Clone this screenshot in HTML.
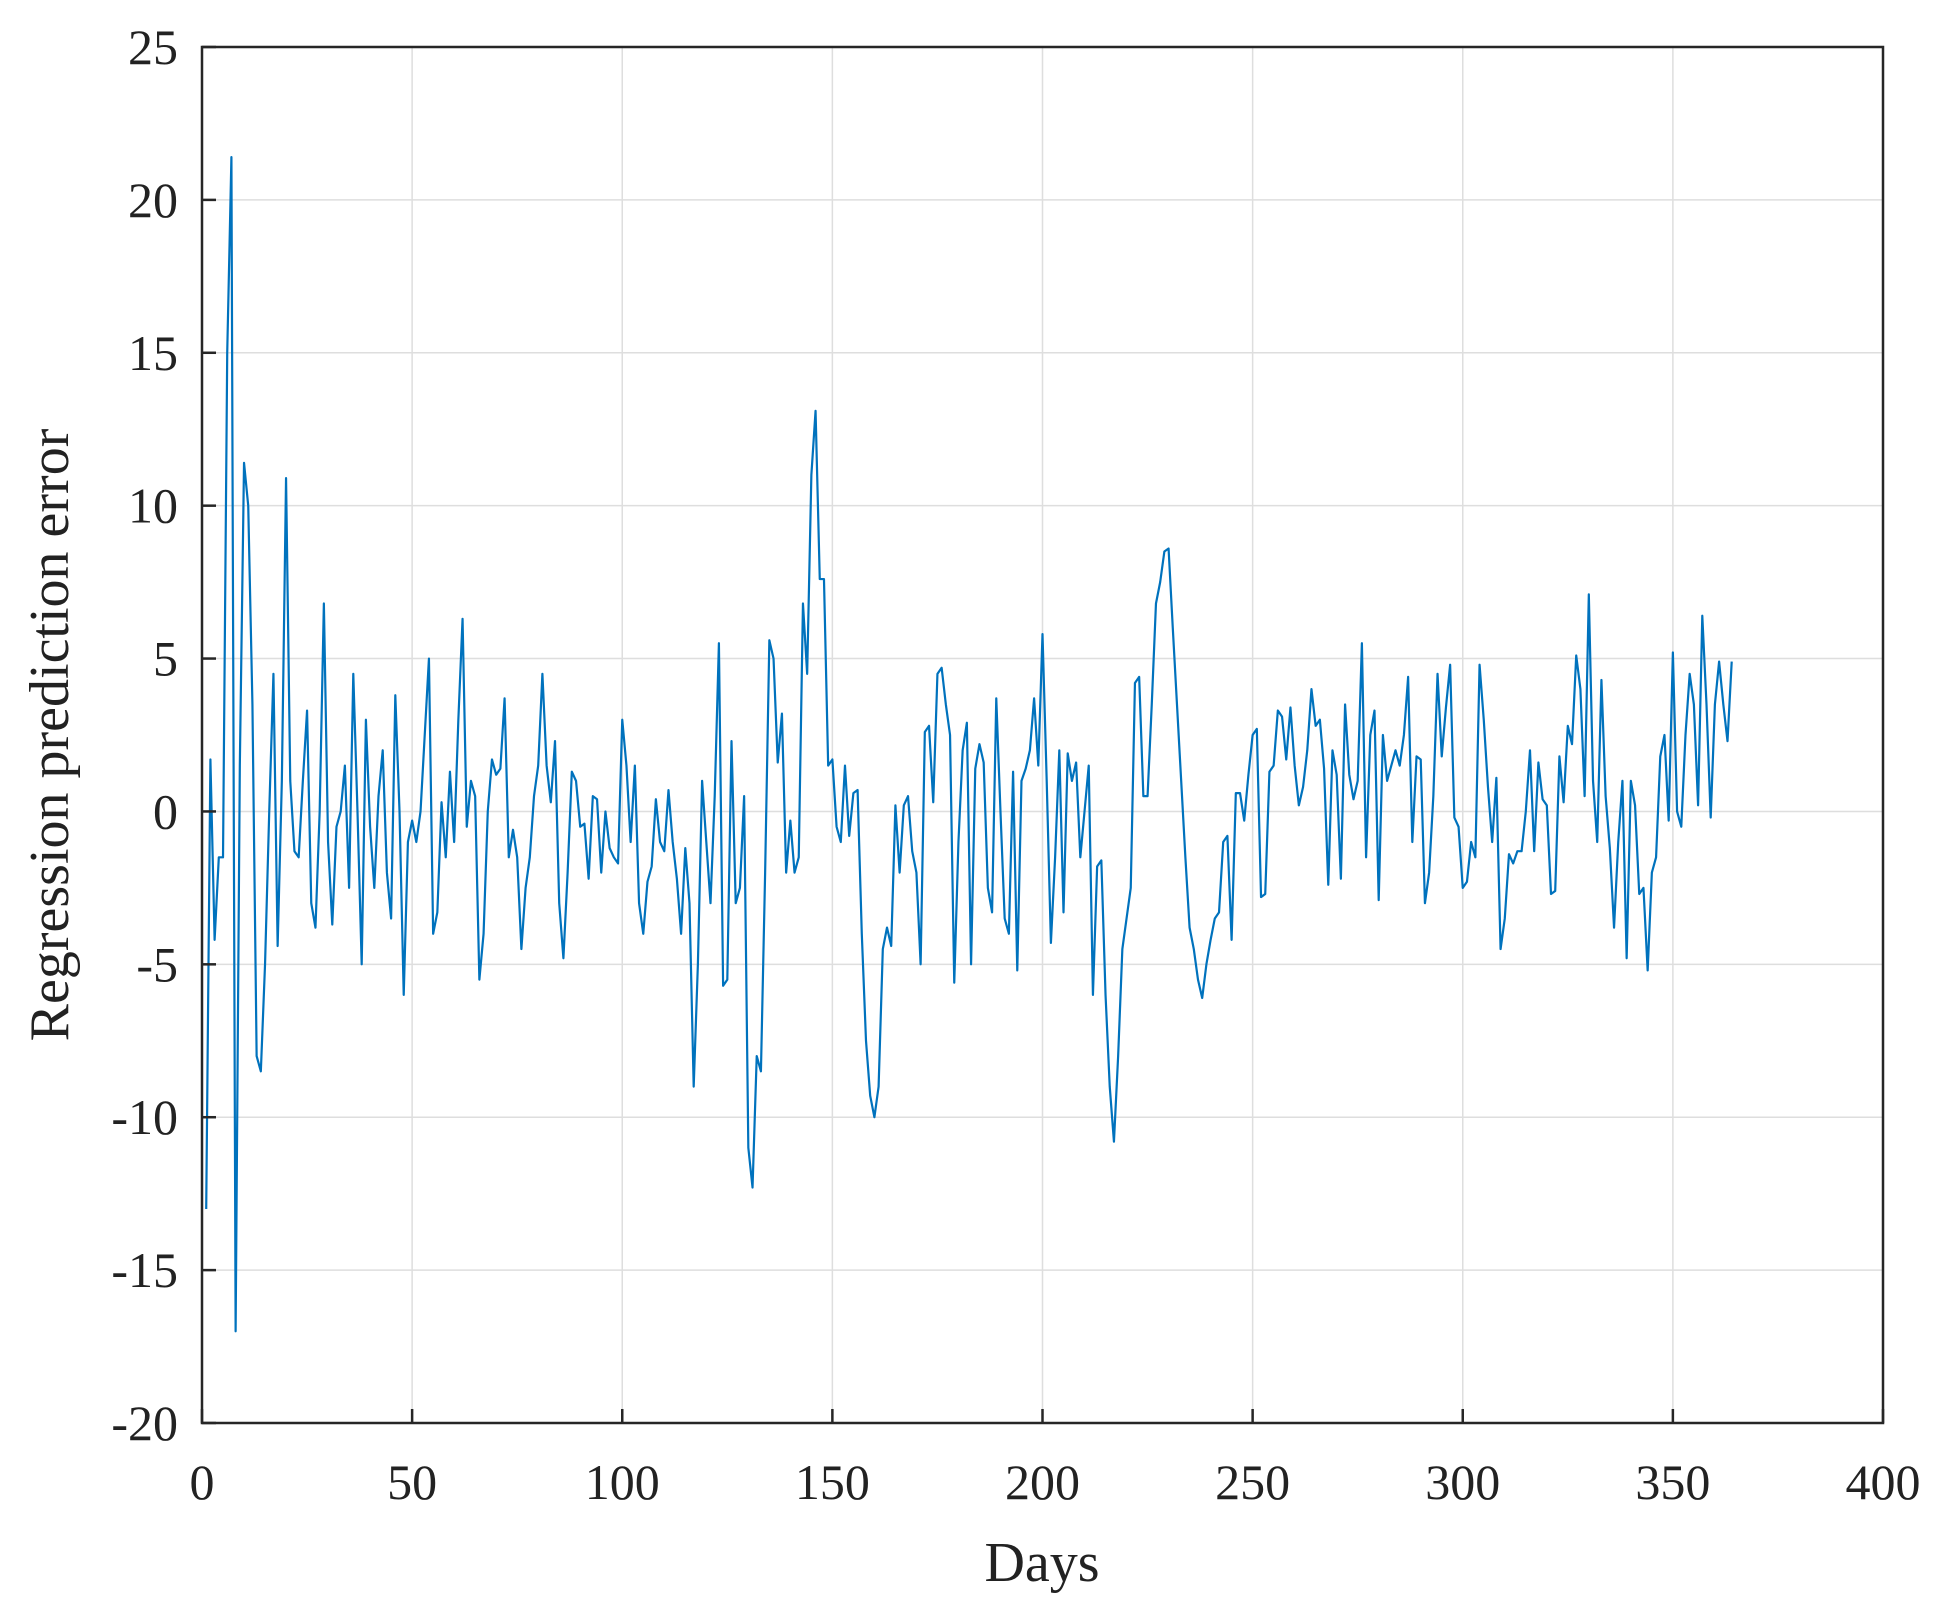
<!DOCTYPE html>
<html><head><meta charset="utf-8"><style>
html,body{margin:0;padding:0;background:#fff;}
svg{display:block;font-family:"Liberation Serif",serif;}
</style></head><body>
<svg id="chart" width="1940" height="1618">
<g id="grid"></g>
<g id="series"></g>
<g id="axes"></g>
<text x="1042" y="1581" font-size="56" text-anchor="middle" fill="#222">Days</text>
<text transform="translate(68,735) rotate(-90)" font-size="56" text-anchor="middle" fill="#222">Regression prediction error</text>
</svg>
<script>
const xTicks=[0,50,100,150,200,250,300,350,400];
const yTicks=[-20,-15,-10,-5,0,5,10,15,20,25];
const errors=[-13,1.7,-4.2,-1.5,-1.5,15,21.4,-17,1.5,11.4,10,3.5,-8,-8.5,-5,0,4.5,-4.4,1,10.9,1,-1.3,-1.5,1,3.3,-3,-3.8,0,6.8,-1,-3.7,-0.5,0,1.5,-2.5,4.5,0,-5,3,-0.5,-2.5,0.5,2,-2,-3.5,3.8,0,-6,-1,-0.3,-1,0,2.5,5,-4,-3.3,0.3,-1.5,1.3,-1,3,6.3,-0.5,1,0.5,-5.5,-4,0,1.7,1.2,1.4,3.7,-1.5,-0.6,-1.5,-4.5,-2.5,-1.5,0.5,1.5,4.5,1.5,0.3,2.3,-3,-4.8,-2,1.3,1,-0.5,-0.4,-2.2,0.5,0.4,-2,0,-1.2,-1.5,-1.7,3,1.5,-1,1.5,-3,-4,-2.3,-1.8,0.4,-1,-1.3,0.7,-1,-2.2,-4,-1.2,-3,-9,-5,1,-1,-3,0.5,5.5,-5.7,-5.5,2.3,-3,-2.5,0.5,-11,-12.3,-8,-8.5,-2,5.6,5,1.6,3.2,-2,-0.3,-2,-1.5,6.8,4.5,11,13.1,7.6,7.6,1.5,1.7,-0.5,-1,1.5,-0.8,0.6,0.7,-4,-7.5,-9.3,-10,-9,-4.5,-3.8,-4.4,0.2,-2,0.2,0.5,-1.3,-2,-5,2.6,2.8,0.3,4.5,4.7,3.5,2.5,-5.6,-1,2,2.9,-5,1.4,2.2,1.6,-2.5,-3.3,3.7,0,-3.5,-4,1.3,-5.2,1,1.4,2,3.7,1.5,5.8,1,-4.3,-1.5,2,-3.3,1.9,1,1.6,-1.5,0,1.5,-6,-1.8,-1.6,-6,-9,-10.8,-8,-4.5,-3.5,-2.5,4.2,4.4,0.5,0.5,3.5,6.8,7.5,8.5,8.6,6,3.5,1,-1.5,-3.8,-4.5,-5.5,-6.1,-5,-4.2,-3.5,-3.3,-1,-0.8,-4.2,0.6,0.6,-0.3,1.2,2.5,2.7,-2.8,-2.7,1.3,1.5,3.3,3.1,1.7,3.4,1.5,0.2,0.8,2,4,2.8,3,1.4,-2.4,2,1.2,-2.2,3.5,1.2,0.4,1,5.5,-1.5,2.5,3.3,-2.9,2.5,1,1.5,2,1.5,2.5,4.4,-1,1.8,1.7,-3,-2,0.5,4.5,1.8,3.4,4.8,-0.2,-0.5,-2.5,-2.3,-1,-1.5,4.8,3,0.8,-1,1.1,-4.5,-3.5,-1.4,-1.7,-1.3,-1.3,0,2,-1.3,1.6,0.4,0.2,-2.7,-2.6,1.8,0.3,2.8,2.2,5.1,4,0.5,7.1,1,-1,4.3,0.5,-1.2,-3.8,-1,1,-4.8,1,0.2,-2.7,-2.5,-5.2,-2,-1.5,1.8,2.5,-0.3,5.2,0,-0.5,2.5,4.5,3.5,0.2,6.4,3.5,-0.2,3.5,4.9,3.5,2.3,4.9];
const L=202,R=1883,T=47,B=1423;
const xs=v=>L+(v-0)/(400-0)*(R-L);
const ys=v=>B-(v+20)/45*(B-T);
const NS="http://www.w3.org/2000/svg";
function mk(tag,attrs,parent){const e=document.createElementNS(NS,tag);for(const k in attrs)e.setAttribute(k,attrs[k]);parent.appendChild(e);return e;}
const grid=document.getElementById('grid'),axes=document.getElementById('axes'),series=document.getElementById('series');
xTicks.forEach(t=>{
  const x=xs(t);
  const g=mk('line',{x1:x,x2:x,y1:T,y2:B,stroke:'#dedede','stroke-width':1.5},grid);
  
  
  const tk=mk('line',{x1:x,x2:x,y1:B,y2:B-14,stroke:'#262626','stroke-width':2.5},axes);
  
  
  const tx=mk('text',{x:x,y:1499,'font-size':50,'text-anchor':'middle',fill:'#222'},axes);
  tx.textContent=t;
  
  
});
yTicks.forEach(t=>{
  const y=ys(t);
  const g=mk('line',{x1:L,x2:R,y1:y,y2:y,stroke:'#dedede','stroke-width':1.5},grid);
  
  
  const tk=mk('line',{x1:L,x2:L+14,y1:y,y2:y,stroke:'#262626','stroke-width':2.5},axes);
  
  
  const tx=mk('text',{x:178,y:y+17,'font-size':50,'text-anchor':'end',fill:'#222'},axes);
  tx.textContent=t;
  
  
});
const box=mk('rect',{x:L,y:T,width:R-L,height:B-T,fill:'none',stroke:'#262626','stroke-width':2.5},axes);


const d=errors.map((v,i)=>(i?'L':'M')+xs(i+1).toFixed(2)+' '+ys(v).toFixed(2)).join(' ');
const p=mk('path',{d:d,fill:'none',stroke:'#0072BD','stroke-width':2.2,'stroke-linejoin':'round'},series);


</script>
</body></html>
